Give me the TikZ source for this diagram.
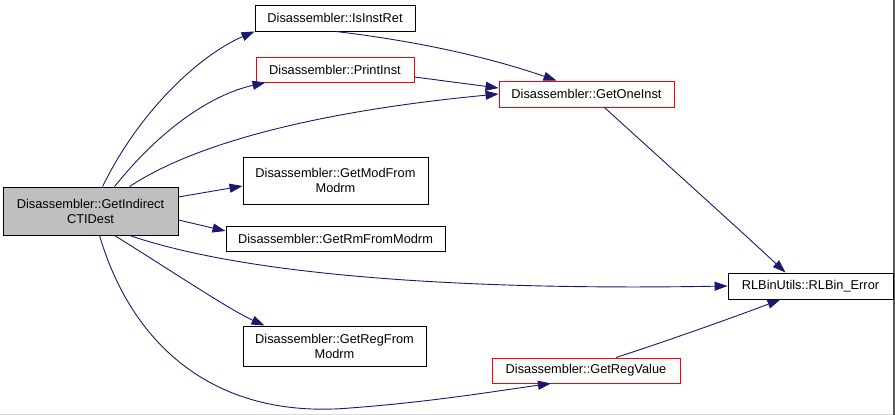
\documentclass[tikz,border=0pt]{standalone}
\usepackage{fontspec}
\setmainfont{Liberation Sans}
\usetikzlibrary{arrows.meta}
\definecolor{edgec}{HTML}{191970}
\begin{document}
\begin{tikzpicture}[x=1pt,y=-1pt,
  box/.style={draw=black,fill=white,rectangle,line width=0.9pt,inner sep=0pt,font=\fontsize{12.8}{15}\selectfont,align=center},
  redbox/.style={box,draw=red},
  edge/.style={draw=edgec,line width=0.9pt,-{Triangle[length=13pt,width=9pt]}}]
\useasboundingbox (0,0) rectangle (895,415);
\fill[black!15] (0,413.5) rectangle (895,415);
\fill[black!65] (893.3,0) rectangle (895,415);
\node[box,fill=black!25,minimum width=175pt,minimum height=48pt] (main) at (90.5,211) {Disassembler::GetIndirect\\CTIDest};
\node[box,minimum width=160pt,minimum height=26pt] (isret) at (335,18) {Disassembler::IsInstRet};
\node[redbox,minimum width=158pt,minimum height=25pt] (print) at (335,69.5) {Disassembler::PrintInst};
\node[redbox,minimum width=175pt,minimum height=26pt] (oneinst) at (586.5,94) {Disassembler::GetOneInst};
\node[box,minimum width=185pt,minimum height=47pt] (mod) at (335.5,180.5) {Disassembler::GetModFrom\\Modrm};
\node[box,minimum width=219pt,minimum height=25pt] (rm) at (335.5,238.5) {Disassembler::GetRmFromModrm};
\node[box,minimum width=165pt,minimum height=26pt] (err) at (810.5,286) {RLBinUtils::RLBin\_Error};
\node[box,minimum width=183pt,minimum height=40pt] (reg) at (334.5,346) {Disassembler::GetRegFrom\\Modrm};
\node[redbox,minimum width=188pt,minimum height=25pt] (regval) at (586,370.5) {Disassembler::GetRegValue};
\draw[edge] (main.north west) ++(100,0) .. controls (140,110) and (200,55) .. (isret.south west);
\draw[edge] (main.north west) ++(112,0) .. controls (160,130) and (210,95) .. ([xshift=10pt]print.south west);
\draw[edge] (main.north west) ++(127,0) .. controls (200,140) and (330,110) .. (oneinst.west);
\draw[edge] (main.east |- 0,197) -- (mod.west |- 0,186);
\draw[edge] (main.east |- 0,220) -- (rm.west |- 0,231);
\draw[edge] (main.south west) ++(127,0) .. controls (260,280) and (500,290) .. (err.west);
\draw[edge] (main.south west) ++(112,0) .. controls (170,270) and (230,310) .. ([xshift=22pt]reg.north west);
\draw[edge] (main.south west) ++(97,0) .. controls (130,340) and (210,420) .. (350,408) .. controls (430,402) and (490,392) .. ([xshift=-35pt]regval.south);
\draw[edge] ([xshift=-80pt]isret.south east) .. controls (450,45) and (520,68) .. ([xshift=-30pt]oneinst.north);
\draw[edge] (print.east |- 0,77) -- (oneinst.west |- 0,88);
\draw[edge] ([xshift=-70pt]oneinst.south east) .. controls (640,140) and (740,230) .. ([xshift=-25pt]err.north);
\draw[edge] ([xshift=30pt]regval.north) .. controls (670,340) and (740,315) .. ([xshift=-30pt]err.south);
\end{tikzpicture}
\end{document}
